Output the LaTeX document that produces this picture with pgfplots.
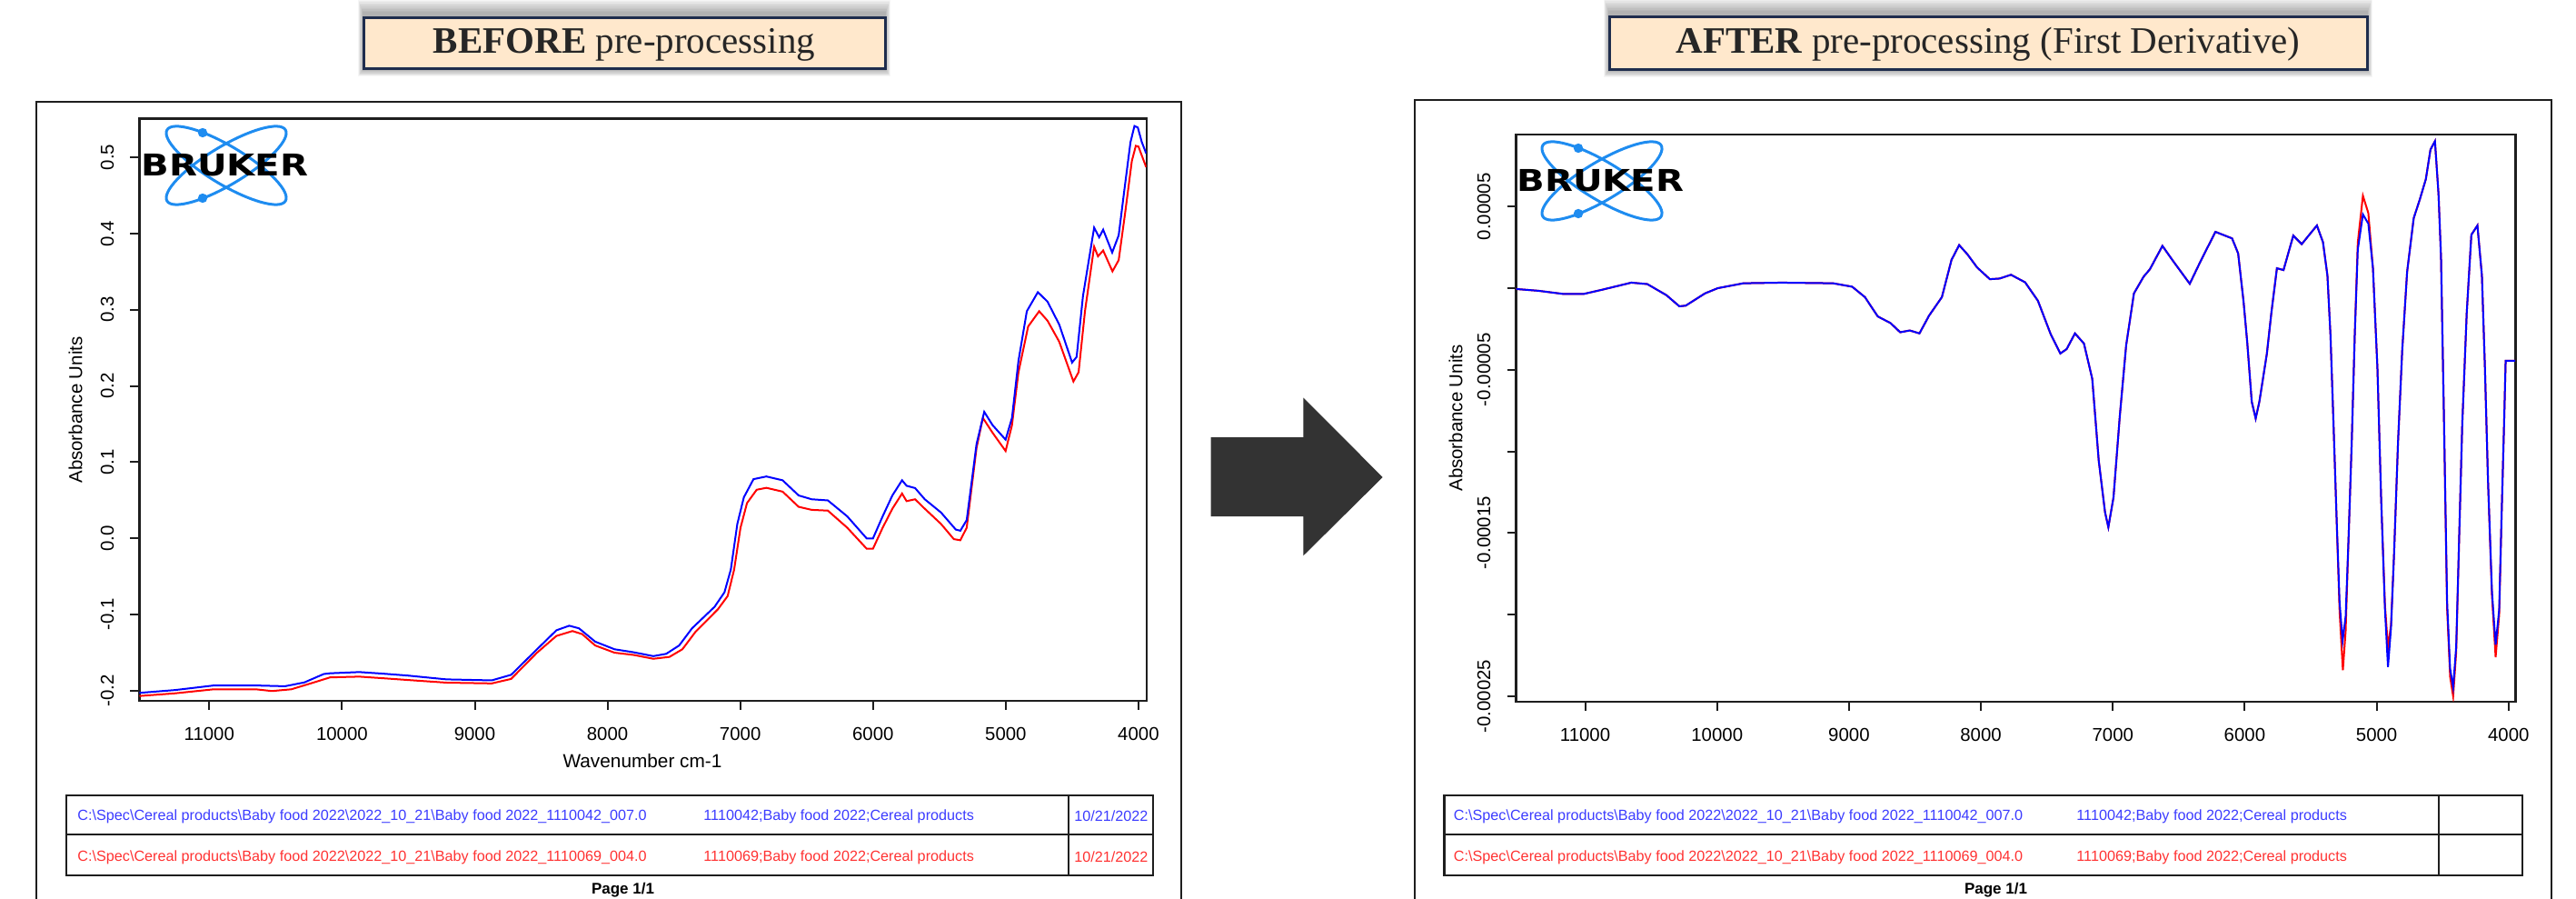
\documentclass[border=0pt]{standalone}
\usepackage{pgfplots}
\pgfplotsset{compat=1.18}
\usepackage{pgfplotstable}
\usepackage{fontspec}
\setmainfont{Liberation Serif}
\setsansfont{Liberation Sans}
\newfontfamily\logofont{DejaVu Sans}

\definecolor{bblue}{RGB}{0,0,255}
\definecolor{rred}{RGB}{255,0,0}
\definecolor{tblue}{RGB}{60,60,255}
\definecolor{tred}{RGB}{255,50,50}
\definecolor{logoblue}{RGB}{30,140,240}
\definecolor{peach}{RGB}{255,232,204}
\definecolor{navy}{RGB}{31,45,77}
\definecolor{arrowgray}{RGB}{51,51,51}
\definecolor{framegray}{RGB}{30,30,30}
\definecolor{titletext}{RGB}{38,38,38}

% BEFORE: blue spectrum
\pgfplotstableread{
w v
11526 -0.2027
11258 -0.199
10966 -0.193
10650 -0.193
10430 -0.194
10284 -0.189
10138 -0.178
10090 -0.177
9870 -0.1754
9700 -0.1774
9505 -0.180
9213 -0.185
8872 -0.1863
8726 -0.179
8531 -0.1455
8385 -0.1206
8288 -0.1146
8215 -0.118
8093 -0.1355
7947 -0.1455
7801 -0.1495
7655 -0.1545
7558 -0.1515
7460 -0.1405
7363 -0.118
7193 -0.0897
7119 -0.0708
7071 -0.0409
7022 0.0189
6973 0.0538
6900 0.0777
6803 0.0812
6681 0.0762
6560 0.0563
6462 0.0513
6340 0.0498
6194 0.0289
6048 0.0
6000 0.0
5927 0.029
5854 0.0563
5781 0.0762
5747 0.069
5683 0.066
5610 0.0513
5488 0.034
5376 0.0115
5342 0.010
5294 0.024
5220 0.1236
5162 0.166
5099 0.1485
5001 0.1295
4953 0.158
4904 0.233
4841 0.298
4758 0.323
4685 0.3105
4597 0.2805
4500 0.2307
4466 0.238
4418 0.318
4334 0.4076
4296 0.395
4266 0.405
4198 0.375
4149 0.3976
4110 0.452
4060 0.520
4030 0.541
4005 0.539
3975 0.520
3942 0.505
}\leftblue

% BEFORE: red spectrum
\pgfplotstableread{
w v
11526 -0.2068
11258 -0.2033
10966 -0.198
10650 -0.198
10528 -0.2003
10382 -0.198
10236 -0.1903
10090 -0.1824
9870 -0.1814
9700 -0.1834
9505 -0.1858
9213 -0.1893
8872 -0.1903
8726 -0.1844
8531 -0.150
8385 -0.128
8264 -0.1216
8191 -0.1256
8093 -0.1405
7947 -0.150
7801 -0.153
7655 -0.158
7533 -0.1555
7436 -0.1455
7339 -0.123
7168 -0.093
7095 -0.0757
7046 -0.0409
6998 0.014
6949 0.0463
6876 0.0638
6803 0.0663
6681 0.0613
6560 0.0414
6462 0.0374
6340 0.0364
6194 0.014
6048 -0.0135
6000 -0.0135
5927 0.014
5854 0.0389
5781 0.0588
5747 0.0488
5683 0.0513
5610 0.0389
5488 0.019
5391 -0.001
5342 -0.0025
5294 0.014
5220 0.1186
5172 0.158
5099 0.1385
5001 0.1146
4953 0.1485
4904 0.218
4831 0.278
4748 0.298
4685 0.2855
4597 0.258
4490 0.2058
4451 0.218
4403 0.298
4334 0.3827
4305 0.370
4266 0.3777
4196 0.3503
4149 0.365
4100 0.4275
4050 0.495
4020 0.515
4000 0.514
3970 0.500
3942 0.487
}\leftred

% AFTER (first derivative), values in units of 1e-5: blue
\pgfplotstableread{
w v
11524 -0.05
11354 -0.16
11160 -0.36
11015 -0.36
10869 -0.09
10650 0.34
10529 0.25
10384 -0.43
10286 -1.11
10238 -1.07
10092 -0.32
9995 0
9801 0.30
9510 0.34
9121 0.30
8976 0.09
8879 -0.55
8782 -1.73
8685 -2.14
8612 -2.70
8539 -2.59
8466 -2.77
8393 -1.68
8296 -0.55
8223 1.73
8165 2.64
8102 2.07
8029 1.27
7932 0.55
7859 0.59
7772 0.82
7665 0.36
7568 -0.77
7471 -2.82
7398 -4.0
7350 -3.73
7287 -2.77
7219 -3.39
7156 -5.55
7107 -10.55
7059 -13.73
7034 -14.64
6995 -12.82
6947 -7.82
6899 -3.5
6840 -0.32
6767 0.70
6719 1.16
6624 2.59
6549 1.73
6417 0.27
6330 1.73
6222 3.45
6096 3.05
6050 2.13
6009 -0.82
5981 -3.32
5947 -6.95
5917 -7.98
5889 -6.95
5832 -4.0
5798 -1.5
5756 1.22
5706 1.11
5632 3.22
5568 2.70
5453 3.84
5407 2.82
5373 0.77
5350 -2.87
5327 -8.32
5304 -14.0
5281 -19.23
5258 -21.6
5235 -20.1
5212 -15.1
5189 -9.46
5166 -2.87
5143 2.36
5104 4.52
5063 3.95
5028 1.22
4994 -4.91
4966 -12.87
4937 -19.68
4914 -23.2
4891 -20.8
4868 -16.27
4838 -9.46
4806 -3.78
4769 1.0
4719 4.29
4673 5.43
4627 6.68
4592 8.49
4558 9.0
4531 5.77
4512 1.90
4489 -8.32
4466 -19.2
4443 -23.3
4420 -24.45
4397 -21.95
4374 -15.14
4351 -8.32
4317 -1.5
4282 3.27
4236 3.84
4202 0.77
4179 -4.91
4156 -11.73
4126 -18.55
4098 -21.84
4071 -19.68
4053 -14.0
4034 -8.32
4022 -4.45
3949 -4.45
}\rightblue

% AFTER: red
\pgfplotstableread{
w v
11524 -0.05
11354 -0.16
11160 -0.36
11015 -0.36
10869 -0.09
10650 0.34
10529 0.25
10384 -0.43
10286 -1.11
10238 -1.07
10092 -0.32
9995 0
9801 0.30
9510 0.34
9121 0.30
8976 0.09
8879 -0.55
8782 -1.73
8685 -2.14
8612 -2.70
8539 -2.59
8466 -2.77
8393 -1.68
8296 -0.55
8223 1.73
8165 2.64
8102 2.07
8029 1.27
7932 0.55
7859 0.59
7772 0.82
7665 0.36
7568 -0.77
7471 -2.82
7398 -4.0
7350 -3.73
7287 -2.77
7219 -3.39
7156 -5.55
7107 -10.55
7059 -13.73
7034 -14.64
6995 -12.82
6947 -7.82
6899 -3.5
6840 -0.32
6767 0.70
6719 1.16
6624 2.59
6549 1.73
6417 0.27
6330 1.73
6222 3.45
6096 3.05
6050 2.13
6009 -0.82
5981 -3.32
5947 -6.95
5917 -7.98
5889 -6.95
5832 -4.0
5798 -1.5
5756 1.22
5706 1.11
5632 3.22
5568 2.70
5453 3.84
5407 2.82
5373 0.77
5350 -2.87
5327 -8.32
5304 -14.0
5281 -19.8
5256 -23.4
5235 -21.0
5212 -15.1
5189 -9.46
5166 -2.87
5143 2.8
5104 5.66
5063 4.6
5028 1.22
4994 -4.91
4966 -12.87
4937 -19.4
4914 -22.0
4891 -20.6
4868 -16.27
4838 -9.46
4806 -3.78
4769 1.0
4719 4.29
4673 5.43
4627 6.68
4592 8.49
4558 9.0
4531 5.77
4512 1.90
4489 -8.32
4466 -19.6
4443 -23.8
4420 -25.0
4397 -22.3
4374 -15.14
4351 -8.32
4317 -1.5
4282 3.27
4236 3.84
4202 0.77
4179 -4.91
4156 -11.73
4126 -18.8
4098 -22.6
4071 -20.0
4053 -14.0
4034 -8.32
4022 -4.45
3949 -4.45
}\rightred

\newcommand{\brukerlogo}[2]{%
  \begin{scope}[shift={(#1,#2)}]
    \draw[logoblue, line width=1.5pt, rotate=-31] (0,0) ellipse [x radius=76, y radius=21];
    \draw[logoblue, line width=1.5pt, rotate=31] (0,0) ellipse [x radius=76, y radius=21];
    \fill[logoblue] (-26,-36) circle (2.6pt);
    \fill[logoblue] (-26,36) circle (2.6pt);
    \node[inner sep=0pt, text=black] at (-1.6,-0.4)
      {\scalebox{1.22}[1]{\logofont\bfseries\fontsize{16.5}{16.5}\selectfont BRUKER}};
  \end{scope}}

\newcommand{\titlebox}[5]{%
  \foreach \r in {1,...,10} {
    \fill[black, opacity=0.035] (#1-\r*0.6, #2-5-\r*1.6) rectangle (#3+\r*0.6, #4+\r*0.8);
  }
  \fill[peach] (#1,#2) rectangle (#3,#4);
  \draw[navy, line width=1.5pt] (#1,#2) rectangle (#3,#4);
  \node[text=titletext, font=\fontsize{20.5}{24}\selectfont] at ({(#1+#3)/2},{(#2+#4)/2+1}) {#5};}

\pgfplotsset{
  brukeraxis/.style={
    scale only axis, x dir=reverse,
    scaled x ticks=false, scaled y ticks=false,
    xtick={4000,5000,6000,7000,8000,9000,10000,11000},
    xticklabels={4000,5000,6000,7000,8000,9000,10000,11000},
    xtick pos=bottom, ytick pos=left,
    tick align=outside, major tick length=5pt,
    axis line style={framegray, line width=1.2pt},
    tick style={framegray, line width=1pt},
    ticklabel style={font=\sffamily\fontsize{10.2}{12}\selectfont, text=black},
    xticklabel style={yshift=-6pt},
    yticklabel style={xshift=-5.5pt, rotate=90, anchor=south},
  }
}

\begin{document}
\begin{tikzpicture}
\path[use as bounding box] (0pt,0pt) rectangle (1417.5pt,-494.5pt);

\begin{scope}[x=0.5pt,y=-0.5pt]
  % page frames
  \draw[framegray, line width=1.1pt] (40,1000) -- (40,112) -- (1300,112) -- (1300,1000);
  \draw[framegray, line width=1.1pt] (1557,1000) -- (1557,110) -- (2808,110) -- (2808,1000);
  % title boxes
  \titlebox{400}{20}{974}{76}{\textbf{BEFORE} pre-processing}
  \titlebox{1771}{19}{2605}{77}{\textbf{AFTER} pre-processing (First Derivative)}
  % arrow
  \fill[arrowgray] (1332.7,481) -- (1434.3,481) -- (1434.3,437.5) -- (1521.7,525)
     -- (1434.3,611.4) -- (1434.3,568) -- (1332.7,568) -- cycle;
\end{scope}

% ---------------- BEFORE axis ----------------
\begin{axis}[
  brukeraxis,
  at={(76.75pt,-385.6pt)}, anchor=south west,
  width=554.1pt, height=320.4pt,
  xmin=3940, xmax=11526, ymin=-0.2134, ymax=0.5508,
  ytick={-0.2,-0.1,0,0.1,0.2,0.3,0.4,0.5},
  yticklabels={-0.2,-0.1,0.0,0.1,0.2,0.3,0.4,0.5},
]
\addplot[rred, line width=1pt] table[x=w,y=v]{\leftred};
\addplot[bblue, line width=1pt] table[x=w,y=v]{\leftblue};
\end{axis}

% ---------------- AFTER axis ----------------
\begin{axis}[
  brukeraxis,
  at={(834.25pt,-385.9pt)}, anchor=south west,
  width=550.05pt, height=311.8pt,
  xmin=3946, xmax=11524, ymin=-25.32, ymax=9.40,
  ytick={-25,-20,-15,-10,-5,0,5},
  yticklabels={{-0.00025},{},{-0.00015},{},{-0.00005},{},{0.00005}},
]
\addplot[rred, line width=1pt] table[x=w,y=v]{\rightred};
\addplot[bblue, line width=1pt] table[x=w,y=v]{\rightblue};
\end{axis}

\begin{scope}[x=0.5pt,y=-0.5pt]
  % logos
  \brukerlogo{249}{182}
  \brukerlogo{1763}{199}
  % axis titles
  \node[rotate=90, font=\sffamily\fontsize{10.2}{12}\selectfont] at (83,451) {Absorbance Units};
  \node[rotate=90, font=\sffamily\fontsize{10.2}{12}\selectfont] at (1602,460) {Absorbance Units};
  \node[font=\sffamily\fontsize{10.4}{12}\selectfont] at (707,837) {Wavenumber cm-1};
  % tables
  \begin{scope}[line width=1.2pt, framegray]
    \draw (73,875) rectangle (1269,963);
    \draw (73,918) -- (1269,918);
    \draw (1176,875) -- (1176,963);
    \draw (1589.5,875) rectangle (2776,963);
    \draw (1589.5,918) -- (2776,918);
    \draw (2683.7,875) -- (2683.7,963);
  \end{scope}
  \begin{scope}[every node/.style={font=\sffamily\fontsize{8.1}{9.6}\selectfont, anchor=west, inner sep=0pt}]
    \node[text=tblue] at (85,898) {C:\textbackslash Spec\textbackslash Cereal products\textbackslash Baby food 2022\textbackslash 2022\_10\_21\textbackslash Baby food 2022\_1110042\_007.0};
    \node[text=tblue] at (774,898) {1110042;Baby food 2022;Cereal products};
    \node[text=tblue] at (1182,898) {10/21/2022};
    \node[text=tred] at (85,943) {C:\textbackslash Spec\textbackslash Cereal products\textbackslash Baby food 2022\textbackslash 2022\_10\_21\textbackslash Baby food 2022\_1110069\_004.0};
    \node[text=tred] at (774,943) {1110069;Baby food 2022;Cereal products};
    \node[text=tred] at (1182,943) {10/21/2022};
    \node[text=tblue] at (1599.5,898) {C:\textbackslash Spec\textbackslash Cereal products\textbackslash Baby food 2022\textbackslash 2022\_10\_21\textbackslash Baby food 2022\_1110042\_007.0};
    \node[text=tblue] at (2285,898) {1110042;Baby food 2022;Cereal products};
    \node[text=tred] at (1599.5,943) {C:\textbackslash Spec\textbackslash Cereal products\textbackslash Baby food 2022\textbackslash 2022\_10\_21\textbackslash Baby food 2022\_1110069\_004.0};
    \node[text=tred] at (2285,943) {1110069;Baby food 2022;Cereal products};
  \end{scope}
  % page footers
  \node[anchor=south, inner sep=0pt, font=\sffamily\bfseries\fontsize{8.5}{10}\selectfont] at (685.5,987) {Page 1/1};
  \node[anchor=south, inner sep=0pt, font=\sffamily\bfseries\fontsize{8.5}{10}\selectfont] at (2196.5,987) {Page 1/1};
\end{scope}
\end{tikzpicture}
\end{document}
